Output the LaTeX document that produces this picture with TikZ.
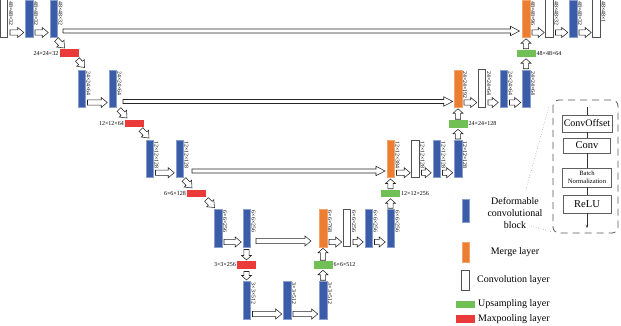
\documentclass[tikz,border=0pt]{standalone}
\usepackage{fontspec}
\setmainfont{Liberation Serif}
\usetikzlibrary{calc,arrows.meta}
\definecolor{dcbblue}{RGB}{59,92,169}
\definecolor{mergeorange}{RGB}{237,125,49}
\definecolor{upgreen}{RGB}{112,192,86}
\definecolor{poolred}{RGB}{234,58,58}
\definecolor{convgray}{RGB}{80,80,80}
\def\bsw{2.6pt}
\def\bhw{5pt}
\def\bhl{6pt}
\tikzset{
  layer/.style={minimum width=7.5pt, minimum height=37.5pt, inner sep=0pt, outer sep=0pt},
  dcb/.style={layer, fill=dcbblue, draw=dcbblue!60!white, line width=0.4pt},
  merge/.style={layer, fill=mergeorange, draw=mergeorange!70!white, line width=0.4pt},
  convl/.style={layer, fill=white, draw=convgray, line width=0.7pt},
  flat/.style={minimum width=19pt, minimum height=7.5pt, inner sep=0pt, outer sep=0pt},
  ups/.style={flat, fill=upgreen},
  pool/.style={flat, fill=poolred},
  dimlab/.style={font=\fontsize{5.8}{6.5}\selectfont, inner sep=0pt, rotate=-90, anchor=south west},
  hlab/.style={font=\fontsize{6}{7}\selectfont, inner sep=0pt},
  legtext/.style={font=\fontsize{10}{12}\selectfont, inner sep=0pt, align=center},
  ibox/.style={draw=gray!75!black, line width=0.8pt, fill=white, inner sep=0pt},
  barrow/.style={draw=black!85, fill=white, line width=0.55pt, line join=miter,
    to path={($(\tikztostart)!\bsw!90:(\tikztotarget)$)
      -- ($(\tikztotarget)!\bhl!(\tikztostart)!\bsw!90:(\tikztotarget)$)
      -- ($(\tikztotarget)!\bhl!(\tikztostart)!\bhw!90:(\tikztotarget)$)
      -- (\tikztotarget)
      -- ($(\tikztotarget)!\bhl!(\tikztostart)!\bhw!-90:(\tikztotarget)$)
      -- ($(\tikztotarget)!\bhl!(\tikztostart)!\bsw!-90:(\tikztotarget)$)
      -- ($(\tikztostart)!\bsw!-90:(\tikztotarget)$) -- cycle}},
  skiparrow/.code={\def\bsw{2pt}\def\bhw{4.7pt}\def\bhl{9pt}},
  vertarrow/.code={\def\bhl{4.5pt}}
}
\newcommand\conn[3][]{\path #2 coordinate (cS) #3 coordinate (cE); \draw[barrow,#1] (cS) to (cE);}
\newcommand\harr[2]{\conn{($(#1.south east)+(2.25,-4.75)$)}{($(#2.south west)+(-1.5,-4.75)$)}}
\newcommand\dimlabel[3]{\node[dimlab] (#1) at ($(#2.north east)+(1.2,1.5)$) {#3};}
\begin{document}
\begin{tikzpicture}[x=1pt,y=-1pt]
\useasboundingbox (0,0) rectangle (621,326);
\fill[white] (0,0) rectangle (621,326);
% level 1
\node[convl] (a1) at (4,18.5) {};
\node[dcb] (a2) at (29,18.5) {};
\node[dcb] (a3) at (53.5,18.5) {};
\node[merge] (r1o) at (526,18.5) {};
\node[convl] (r1w) at (549.5,18.5) {};
\node[dcb] (r1b) at (573,18.5) {};
\node[convl] (r1x) at (596.5,18.5) {};
% level 2
\node[dcb] (b1) at (81.5,88.5) {};
\node[dcb] (b2) at (112.5,88.5) {};
\node[merge] (r2o) at (458,88.5) {};
\node[convl] (r2w) at (482,88.5) {};
\node[dcb] (r2b1) at (503.5,88.5) {};
\node[dcb] (r2b2) at (526,88.5) {};
% level 3
\node[dcb] (c1) at (149.5,158.75) {};
\node[dcb] (c2) at (179.5,158.75) {};
\node[merge] (r3o) at (390.5,158.75) {};
\node[convl] (r3w) at (415.5,158.75) {};
\node[dcb] (r3b1) at (436.5,158.75) {};
\node[dcb] (r3b2) at (458,158.75) {};
% level 4
\node[dcb] (d1) at (218,228) {};
\node[dcb] (d2) at (246.5,228) {};
\node[merge] (r4o) at (323,228) {};
\node[convl] (r4w) at (347,228) {};
\node[dcb] (r4b1) at (368.5,228) {};
\node[dcb] (r4b2) at (390.5,228) {};
% level 5
\node[dcb] (e1) at (246.5,300) {};
\node[dcb] (e2) at (287,300) {};
\node[dcb] (e3) at (323,300) {};
% pooling / upsampling
\node[pool] (p1) at (69,53.25) {};
\node[pool] (p2) at (134.5,123.75) {};
\node[pool] (p3) at (196.5,193.5) {};
\node[pool] (p4) at (246.5,265) {};
\node[ups] (u4) at (323,265) {};
\node[ups] (u3) at (390.5,193.5) {};
\node[ups] (u2) at (458,124) {};
\node[ups] (u1) at (526,53.5) {};
% dimension labels
\dimlabel{la1}{a1}{48×48×32}
\dimlabel{la2}{a2}{48×48×32}
\dimlabel{la3}{a3}{48×48×32}
\dimlabel{lr1o}{r1o}{48×48×96}
\dimlabel{lr1w}{r1w}{48×48×32}
\dimlabel{lr1b}{r1b}{48×48×32}
\dimlabel{lr1x}{r1x}{48×48×1}
\dimlabel{lb1}{b1}{24×24×64}
\dimlabel{lb2}{b2}{24×24×64}
\dimlabel{lr2o}{r2o}{24×24×192}
\dimlabel{lr2w}{r2w}{24×24×64}
\dimlabel{lr2b1}{r2b1}{24×24×64}
\dimlabel{lr2b2}{r2b2}{24×24×64}
\dimlabel{lc1}{c1}{12×12×128}
\dimlabel{lc2}{c2}{12×12×128}
\dimlabel{lr3o}{r3o}{12×12×384}
\dimlabel{lr3w}{r3w}{12×12×128}
\dimlabel{lr3b1}{r3b1}{12×12×128}
\dimlabel{lr3b2}{r3b2}{12×12×128}
\dimlabel{ld1}{d1}{6×6×256}
\dimlabel{ld2}{d2}{6×6×256}
\dimlabel{lr4o}{r4o}{6×6×768}
\dimlabel{lr4w}{r4w}{6×6×256}
\dimlabel{lr4b1}{r4b1}{6×6×256}
\dimlabel{lr4b2}{r4b2}{6×6×256}
\dimlabel{le1}{e1}{3×3×512}
\dimlabel{le2}{e2}{3×3×512}
\dimlabel{le3}{e3}{3×3×512}
\node[hlab, anchor=east] (lp1) at ($(p1.west)+(-1,0)$) {24×24×32};
\node[hlab, anchor=east] (lp2) at ($(p2.west)+(-1,0)$) {12×12×64};
\node[hlab, anchor=east] (lp3) at ($(p3.west)+(-1,0)$) {6×6×128};
\node[hlab, anchor=east] (lp4) at ($(p4.west)+(-1,0)$) {3×3×256};
\node[hlab, anchor=west] (lu4) at ($(u4.east)+(1,0)$) {6×6×512};
\node[hlab, anchor=west] (lu3) at ($(u3.east)+(1,0)$) {12×12×256};
\node[hlab, anchor=west] (lu2) at ($(u2.east)+(1,0)$) {24×24×128};
\node[hlab, anchor=west] (lu1) at ($(u1.east)+(1,0)$) {48×48×64};
% horizontal arrows
\harr{a1}{a2} \harr{a2}{a3}
\harr{r1o}{r1w} \harr{r1w}{r1b} \harr{r1b}{r1x}
\harr{b1}{b2} \harr{r2o}{r2w} \harr{r2w}{r2b1} \harr{r2b1}{r2b2}
\harr{c1}{c2} \harr{r3o}{r3w} \harr{r3w}{r3b1} \harr{r3b1}{r3b2}
\harr{d1}{d2} \harr{r4o}{r4w} \harr{r4w}{r4b1} \harr{r4b1}{r4b2}
\harr{e1}{e2} \harr{e2}{e3}
% skip connections
\conn[skiparrow]{($(a3.south east)+(5.75,-6.25)$)}{($(r1o.south west)+(-2.75,-6.25)$)}
\conn[skiparrow]{($(b2.south east)+(6.75,-5.75)$)}{($(r2o.south west)+(-1.5,-5.75)$)}
\conn[skiparrow]{($(c2.south east)+(8.75,-6.5)$)}{($(r3o.south west)+(-1.75,-6.5)$)}
\conn{($(d2.south east)+(5.75,-5.75)$)}{($(r4o.south west)+(-8.25,-5.75)$)}
% diagonal arrows
\conn{($(a3.south east)+(-0.75,2.25)$)}{($(p1.north west)+(5,-1.5)$)}
\conn{($(p1.south east)+(-1,2.5)$)}{($(b1.north west)+(6.75,-2.25)$)}
\conn{($(b2.south east)+(2.75,2.25)$)}{($(p2.north west)+(2,-2)$)}
\conn{($(p2.south east)+(-3,2)$)}{($(c1.north west)+(3.25,-2)$)}
\conn{($(c2.south east)+(0.75,2)$)}{($(p3.north west)+(5,-1.75)$)}
\conn{($(p3.south east)+(0.5,2.25)$)}{($(d1.north west)+(0.25,-1.75)$)}
% vertical arrows
\conn[vertarrow]{($(d2.south)+(0,2.75)$)}{($(p4.north)+(0,-1.25)$)}
\conn[vertarrow]{($(p4.south)+(0,2.75)$)}{($(e1.north)+(0,-1.25)$)}
\conn[vertarrow]{($(e3.north)+(0,-1)$)}{($(u4.south)+(0,1.5)$)}
\conn[vertarrow]{($(u4.north)+(0,-1)$)}{($(r4o.south)+(0,1.5)$)}
\conn[vertarrow]{($(r4b2.north)+(0,-1)$)}{($(u3.south)+(0,1.5)$)}
\conn[vertarrow]{($(u3.north)+(0,-1)$)}{($(r3o.south)+(0,1.5)$)}
\conn[vertarrow]{($(r3b2.north)+(0,-1)$)}{($(u2.south)+(0,1.5)$)}
\conn[vertarrow]{($(u2.north)+(0,-1)$)}{($(r2o.south)+(0,1.5)$)}
\conn[vertarrow]{($(r2b2.north)+(0,-1)$)}{($(u1.south)+(0,1.5)$)}
\conn[vertarrow]{($(u1.north)+(0,-1)$)}{($(r1o.south)+(0,1.5)$)}
% legend
\node[dcb, minimum height=23pt] (legD) at (465.5,210.5) {};
\node[legtext] (legDt) at (515,213) {Deformable\\convolutional\\block};
\node[merge, minimum height=20pt] (legM) at (465.5,252) {};
\node[legtext] (legMt) at (515,252) {Merge layer};
\node[convl, minimum height=20pt] (legC) at (465.5,280) {};
\node[legtext, anchor=west] (legCt) at (477,280) {Convolution layer};
\node[ups] (legU) at (465.5,304.25) {};
\node[legtext, anchor=west] (legUt) at (478,304.25) {Upsampling layer};
\node[pool] (legP) at (465.5,318.75) {};
\node[legtext, anchor=west] (legPt) at (478,318.75) {Maxpooling layer};
% inset
\draw[gray!70!black, line width=0.8pt, dash pattern=on 7pt off 5pt, rounded corners=6pt] (553,100) rectangle (618,233);
\coordinate (intop) at (587,107.5);
\coordinate (inbot) at (587,228);
\node[ibox, minimum width=50pt, minimum height=17pt, font=\fontsize{10}{12}\selectfont] (co) at (587,123.5) {ConvOffset};
\node[ibox, minimum width=47pt, minimum height=15pt, font=\fontsize{10.5}{12}\selectfont] (cv) at (587,145.5) {Conv};
\node[ibox, minimum width=49pt, minimum height=19pt, font=\fontsize{6.6}{7.6}\selectfont, align=center] (bn) at (587,177.5) {Batch\\Normalization};
\node[ibox, minimum width=48pt, minimum height=18pt, font=\fontsize{10.5}{12}\selectfont] (rl) at (587,204) {ReLU};
\draw[black!80, line width=0.6pt] (intop) -- (co);
\draw[black!80, line width=0.6pt] (co) -- (cv);
\draw[black!80, line width=0.6pt] (cv) -- (bn);
\draw[black!80, line width=0.6pt] (bn) -- (rl);
\draw[black!80, line width=0.6pt, -{Stealth[length=3pt,width=2.5pt]}] (rl) -- (inbot);
% dotted callout lines
\coordinate (dl1a) at (526,190);
\coordinate (dl1b) at (549,106);
\coordinate (dl2a) at (531,226);
\coordinate (dl2b) at (552,232);
\draw[gray, line width=0.5pt, dotted] (dl1a) -- (dl1b);
\draw[gray, line width=0.5pt, dotted] (dl2a) -- (dl2b);
\end{tikzpicture}
\end{document}
